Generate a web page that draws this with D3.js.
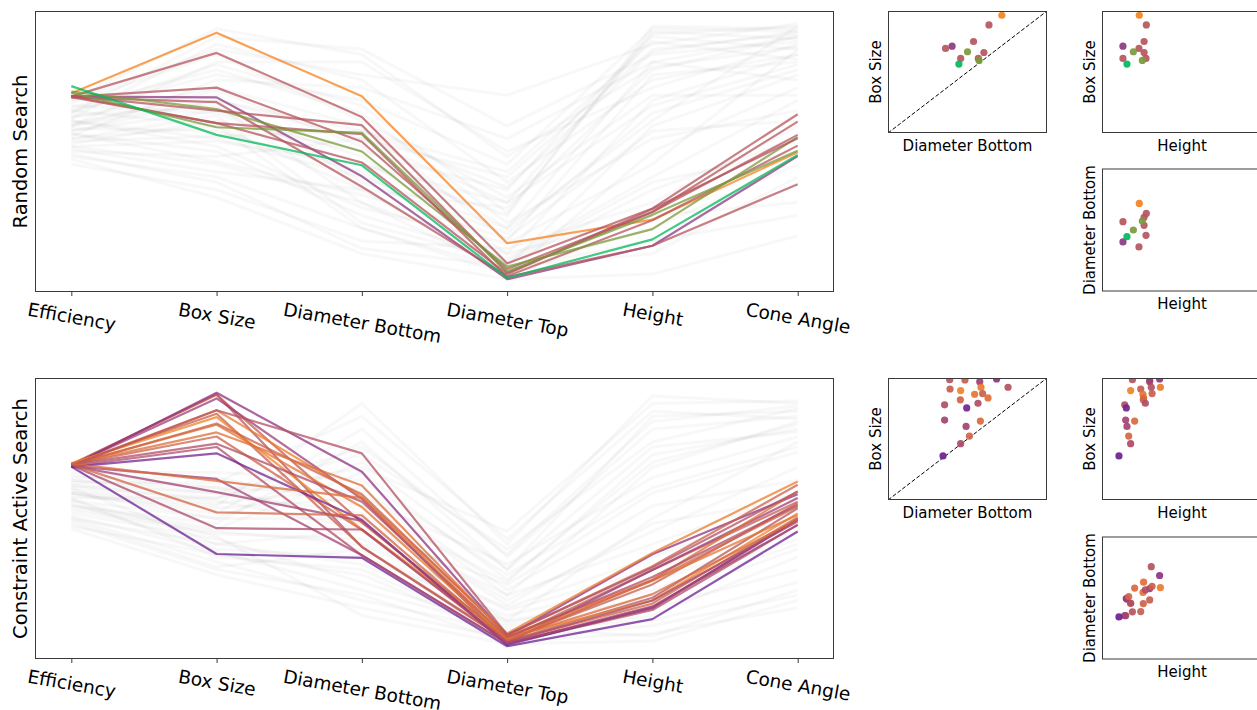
<!DOCTYPE html>
<html><head><meta charset="utf-8">
<script src="https://cdn.jsdelivr.net/npm/d3@7"></script>
<style>body{margin:0;background:#fff} text{font-family:"DejaVu Sans",sans-serif;fill:#000}</style>
</head><body><svg id="c" width="1257" height="710"></svg>
<script>
// ---------- DATA ----------
const dims = ["Efficiency","Box Size","Diameter Bottom","Diameter Top","Height","Cone Angle"];

// Random Search : highlighted samples (normalized 0..1 per dimension)
const rsGroup    = ["c","a","a","d","a","b","a","a","a","b","e"];
const rsEff      = [.728,.716,.714,.715,.712,.735,.718,.713,.717,.730,.756];
const rsBox      = [.965,.886,.750,.712,.693,.666,.660,.611,.611,.595,.565];
const rsDiamB    = [.716,.635,.538,.403,.362,.500,.603,.568,.457,.573,.446];
const rsDiamT    = [.141,.062,.040,.000,.012,.049,.025,.008,.020,.030,.005];
const rsHeight   = [.233,.277,.263,.131,.231,.196,.263,.131,.275,.252,.156];
const rsCone     = [.497,.646,.565,.482,.523,.556,.617,.372,.552,.503,.486];

// Random Search : all other samples
const rsGray = [
[.62,.55,.40,.20,.85,.95],[.58,.70,.55,.30,.95,.90],[.66,.80,.70,.45,.98,.97],[.52,.45,.30,.10,.70,.88],
[.70,.90,.80,.72,.92,1.0],[.55,.60,.35,.05,.60,.80],[.48,.40,.20,.02,.50,.75],[.63,.75,.60,.15,.80,.85],
[.60,.85,.85,.50,.75,.92],[.68,.65,.45,.25,.99,.98],[.57,.50,.25,.08,.40,.70],[.45,.35,.15,.12,.30,.60],
[.65,.95,.90,.60,.88,.93],[.53,.62,.50,.35,.96,.99],[.61,.72,.38,.18,.65,.82],[.50,.48,.55,.40,.90,.96],
[.67,.82,.65,.22,.55,.66],[.59,.58,.42,.06,.35,.55],[.47,.32,.10,.00,.02,.17],[.64,.68,.30,.03,.20,.45],
[.56,.78,.75,.55,.85,.78],[.62,.52,.28,.14,.45,.90],[.69,.88,.62,.32,.72,.72],[.51,.42,.35,.28,.82,.95],
[.58,.66,.48,.10,.25,.30],[.66,.60,.20,.04,.15,.25],[.54,.56,.58,.42,.93,.86],[.60,.74,.52,.20,.62,.99],
[.49,.38,.12,.05,.10,.40],[.63,.92,.78,.38,.78,.88],[.57,.46,.33,.16,.58,.62],[.65,.84,.68,.26,.97,.94],
[.52,.54,.45,.30,.68,.84],[.70,.98,.88,.48,.83,.91],[.55,.64,.22,.07,.38,.50],[.60,.70,.58,.36,.89,.97]
];

// Constraint Active Search : highlighted samples
const casScore   = [.50,.62,.30,.20,.62,.95,.90,.85,.65,.80,.48,.68,.45,.45,.05,.35,.75,.35,.70,.42,.00];
const casEff     = [.710,.712,.708,.706,.714,.716,.710,.712,.709,.713,.707,.711,.704,.710,.702,.705,.715,.706,.711,.708,.703];
const casBox     = [.986,.984,.970,.992,.910,.897,.924,.867,.872,.837,.924,.821,.780,.793,.755,.655,.647,.603,.524,.462,.361];
const casDiamB   = [.388,.484,.577,.683,.390,.457,.585,.545,.595,.629,.755,.455,.356,.566,.495,.356,.581,.491,.512,.457,.346];
const casDiamT   = [.020,.030,.015,.040,.025,.035,.050,.030,.045,.040,.045,.020,.010,.035,.005,.012,.030,.010,.020,.015,.000];
const casHeight  = [.190,.298,.298,.360,.242,.179,.365,.256,.313,.260,.308,.258,.142,.271,.152,.148,.204,.156,.167,.179,.106];
const casCone    = [.540,.566,.580,.595,.560,.520,.645,.514,.632,.606,.606,.547,.475,.553,.495,.500,.495,.475,.505,.488,.449];

// Constraint Active Search : all other samples
const casGray = [
[.60,.55,.95,.40,.98,.95],[.55,.48,.80,.30,.90,.92],[.65,.62,.60,.20,.70,.88],[.50,.40,.45,.10,.50,.80],
[.58,.35,.30,.05,.20,.40],[.62,.58,.70,.45,.95,.96],[.48,.30,.20,.02,.05,.15],[.66,.66,.55,.25,.75,.85],
[.54,.45,.40,.15,.35,.55],[.60,.52,.85,.35,.85,.90],[.52,.42,.25,.08,.15,.30],[.68,.68,.65,.28,.62,.78],
[.57,.50,.50,.18,.45,.70],[.46,.28,.15,.03,.08,.20],[.63,.60,.75,.38,.80,.93],[.56,.38,.35,.12,.25,.45],
[.61,.56,.62,.22,.55,.65],[.50,.33,.18,.06,.10,.25],[.64,.64,.90,.42,.92,.89],[.53,.44,.42,.14,.30,.50],
[.59,.54,.58,.32,.66,.82],[.47,.36,.28,.04,.12,.35],[.67,.62,.48,.20,.40,.60],[.55,.46,.68,.26,.72,.87],
[.62,.40,.32,.10,.18,.38],[.58,.58,.78,.36,.88,.94],[.51,.37,.22,.07,.04,.22],[.65,.60,.52,.16,.48,.58],
[.49,.31,.38,.09,.22,.42],[.60,.50,.72,.30,.78,.84],[.57,.43,.12,.01,.02,.18],[.63,.57,.46,.24,.60,.76]
];

// ---------- DRAWING ----------
const svg = d3.select("#c");
const rsColor = d3.scaleOrdinal().domain(["a","b","c","d","e"])
  .range(["#b5565e","#7a9a3a","#f5821f","#8b3a82","#00b85a"]);
const casColor = d3.scaleLinear().domain([0,.25,.5,.75,1])
  .range(["#6b1f93","#96377e","#b6535f","#d9693e","#f5891f"]);

function rows(...cols){ return cols[0].map((_,i)=>cols.map(c=>c[i])); }

const rsRows = rows(rsEff,rsBox,rsDiamB,rsDiamT,rsHeight,rsCone)
  .map((v,i)=>({v, color: rsColor(rsGroup[i])}));
const casRows = rows(casEff,casBox,casDiamB,casDiamT,casHeight,casCone)
  .map((v,i)=>({v, color: casColor(casScore[i])}));

let clipId = 0;
function clip(g, x0, y0, w, h){
  const id = "clip"+(clipId++);
  g.append("clipPath").attr("id",id).append("rect").attr("x",x0).attr("y",y0).attr("width",w).attr("height",h);
  return "url(#"+id+")";
}

function parallel(top, bottom, label, gray, hi){
  const L = 35, R = 834;
  const g = svg.append("g");
  const x = d3.scaleLinear().domain([-0.25,5.25]).range([L,R]);
  const y = d3.scaleLinear().domain([-0.05,1.05]).range([bottom,top]);
  const line = d3.line().x((d,i)=>x(i)).y(d=>y(d));
  const cp = clip(g, L, top, R-L, bottom-top);
  const pg = g.append("g").attr("clip-path", cp);
  pg.selectAll("path.gray").data(gray).join("path")
    .attr("d", d=>line(d)).attr("fill","none")
    .attr("stroke","#8a8a8a").attr("stroke-opacity",0.06).attr("stroke-width",3);
  pg.selectAll("path.hi").data(hi).join("path")
    .attr("d", d=>line(d.v)).attr("fill","none")
    .attr("stroke", d=>d.color).attr("stroke-opacity",0.75).attr("stroke-width",2.2)
    .attr("stroke-linejoin","round");
  g.append("rect").attr("x",L+0.5).attr("y",top+0.5).attr("width",R-L-1).attr("height",bottom-top-1)
    .attr("fill","none").attr("stroke","#3a3a3a").attr("stroke-width",1);
  const ax = g.append("g").attr("transform",`translate(0,${bottom})`)
    .call(d3.axisBottom(x).tickValues(d3.range(dims.length)).tickFormat(i=>dims[i]).tickSize(4).tickPadding(0));
  ax.select(".domain").remove();
  ax.selectAll(".tick line").attr("stroke","#3a3a3a");
  const fs = 18.5, th = 10*Math.PI/180;
  ax.selectAll(".tick text")
    .attr("font-size",fs).attr("font-family","DejaVu Sans").attr("fill","#000")
    .attr("text-anchor","middle").attr("y",0).attr("dy","0.35em")
    .each(function(){
      const w = this.getComputedTextLength(), h = fs*1.1;
      const cy = 7 + (w*Math.sin(th) + h*Math.cos(th))/2;
      d3.select(this).attr("transform",`translate(0,${cy}) rotate(10)`);
    });
  g.append("text").attr("transform",`translate(26.5,${(top+bottom)/2}) rotate(-90)`)
    .attr("text-anchor","middle").attr("font-size",19.5).text(label);
}

function scatter(x0, y0, w, h, xs, ys, colors, xlabel, ylabel, diag){
  const g = svg.append("g");
  const x = d3.scaleLinear().domain([0,1]).range([x0,x0+w]);
  const y = d3.scaleLinear().domain([0,1]).range([y0+h,y0]);
  const cp = clip(g, x0, y0, w, h);
  const pg = g.append("g").attr("clip-path",cp);
  if (diag) pg.append("line").attr("x1",x(0)).attr("y1",y(0)).attr("x2",x(1)).attr("y2",y(1))
    .attr("stroke","#000").attr("stroke-width",1).attr("stroke-dasharray","4,2");
  pg.selectAll("circle").data(xs).join("circle")
    .attr("cx",(d)=>x(d)).attr("cy",(d,i)=>y(ys[i])).attr("r",3.6)
    .attr("fill",(d,i)=>colors[i]).attr("fill-opacity",0.92);
  g.append("rect").attr("x",x0+0.5).attr("y",y0+0.5).attr("width",w-1).attr("height",h-1)
    .attr("fill","none").attr("stroke","#3a3a3a").attr("stroke-width",1);
  g.append("text").attr("x",x0+w/2).attr("y",y0+h+17.5).attr("text-anchor","middle")
    .attr("font-size",15).text(xlabel);
  g.append("text").attr("transform",`translate(${x0-7},${y0+h/2}) rotate(-90)`)
    .attr("text-anchor","middle").attr("font-size",15).text(ylabel);
}

function scatterSet(top, bottomTop, box, diamB, height, colors){
  scatter(888, top, 159, 122, diamB, box, colors, "Diameter Bottom", "Box Size", true);
  scatter(1102, top, 160, 122, height, box, colors, "Height", "Box Size", false);
  scatter(1102, bottomTop, 160, 123, height, diamB, colors, "Height", "Diameter Bottom", false);
}

parallel(11, 292, "Random Search", rsGray, rsRows);
parallel(378, 659, "Constraint Active Search", casGray, casRows);

scatterSet(11, 168.5, rsBox, rsDiamB, rsHeight, rsRows.map(d=>d.color));
scatterSet(378, 536.5, casBox, casDiamB, casHeight, casRows.map(d=>d.color));
</script>
</body></html>
